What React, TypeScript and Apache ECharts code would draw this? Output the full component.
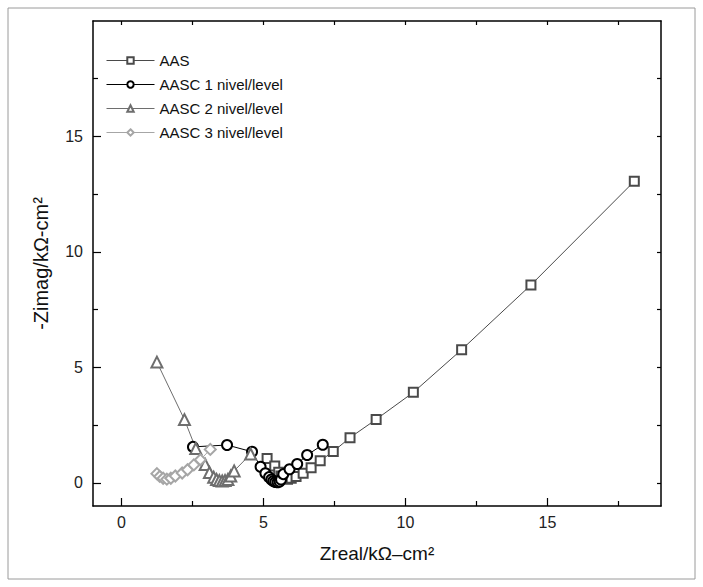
import React, { useEffect, useRef } from "react";
import * as echarts from "echarts";

const seriesNames = ["AAS", "AASC 1 nivel/level", "AASC 2 nivel/level", "AASC 3 nivel/level"];

const aasData = [
  [5.13, 1.06], [5.4, 0.73], [5.54, 0.46], [5.62, 0.3], [5.72, 0.2], [5.85, 0.16], [5.98, 0.2],
  [6.15, 0.28], [6.4, 0.42], [6.68, 0.66], [7.0, 0.96], [7.46, 1.36], [8.05, 1.96], [8.97, 2.75],
  [10.28, 3.92], [11.98, 5.77], [14.42, 8.57], [18.06, 13.06],
];

const aasc1Data = [
  [2.52, 1.56], [3.72, 1.64], [4.6, 1.35], [4.9, 0.7], [5.07, 0.42], [5.2, 0.25], [5.28, 0.15],
  [5.35, 0.08], [5.42, 0.04], [5.5, 0.03], [5.57, 0.06], [5.62, 0.15], [5.7, 0.38], [5.92, 0.59],
  [6.19, 0.82], [6.54, 1.21], [7.09, 1.65],
];

const aasc2Data = [
  [1.25, 5.23], [2.22, 2.74], [2.62, 1.49], [2.95, 0.8], [3.1, 0.45], [3.25, 0.25], [3.35, 0.15],
  [3.45, 0.1], [3.55, 0.08], [3.65, 0.1], [3.75, 0.15], [3.85, 0.3], [3.97, 0.52], [4.55, 1.25],
];

const aasc3Data = [
  [1.25, 0.4], [1.35, 0.28], [1.47, 0.2], [1.6, 0.16], [1.74, 0.2], [1.9, 0.3], [2.14, 0.43],
  [2.33, 0.57], [2.55, 0.78], [2.78, 1.0], [3.13, 1.45],
];

const majorTicks = [0, 5, 10, 15];
const minorTicks = [2.5, 7.5, 12.5, 17.5];
const allTicks = [0, 2.5, 5, 7.5, 10, 12.5, 15, 17.5];

const xTitle = "Zreal/kΩ–cm²";
const yTitle = "-Zimag/kΩ-cm²";

const FONT = 'Arial, "Liberation Sans", sans-serif';

export default function App() {
  const ref = useRef<HTMLDivElement>(null);

  useEffect(() => {
    if (!ref.current) return;
    const chart = echarts.init(ref.current, null, { renderer: "svg" });

    const axisBase = (min: number, max: number) => ({
      type: "value" as const,
      min,
      max,
      splitLine: { show: false },
    });

    const line = (show: boolean) => ({ show, onZero: false, lineStyle: { color: "#000", width: 1.5 } });

    const xAxes = [
      {
        ...axisBase(-1, 19),
        position: "bottom",
        axisLine: line(true),
        axisTick: { show: true, inside: true, length: 8, customValues: majorTicks, lineStyle: { color: "#000", width: 1.2 } },
        axisLabel: { show: true, customValues: majorTicks, fontSize: 16, color: "#222", fontFamily: FONT, margin: 8 },
        name: xTitle,
        nameLocation: "middle",
        nameGap: 38,
        nameTextStyle: { fontSize: 19, color: "#111", fontFamily: FONT },
      },
      {
        ...axisBase(-1, 19),
        position: "bottom",
        axisLine: line(false),
        axisTick: { show: true, inside: true, length: 5, customValues: minorTicks, lineStyle: { color: "#000", width: 1.2 } },
        axisLabel: { show: false },
      },
      {
        ...axisBase(-1, 19),
        position: "top",
        axisLine: line(true),
        axisTick: { show: true, inside: true, length: 4, customValues: allTicks, lineStyle: { color: "#000", width: 1.2 } },
        axisLabel: { show: false },
      },
    ];

    const yAxes = [
      {
        ...axisBase(-1, 20),
        position: "left",
        axisLine: line(true),
        axisTick: { show: true, inside: true, length: 8, customValues: majorTicks, lineStyle: { color: "#000", width: 1.2 } },
        axisLabel: { show: true, customValues: majorTicks, fontSize: 16, color: "#222", fontFamily: FONT, margin: 10 },
        name: yTitle,
        nameLocation: "middle",
        nameGap: 42,
        nameRotate: 90,
        nameTextStyle: { fontSize: 20, color: "#111", fontFamily: FONT },
      },
      {
        ...axisBase(-1, 20),
        position: "left",
        axisLine: line(false),
        axisTick: { show: true, inside: true, length: 5, customValues: minorTicks, lineStyle: { color: "#000", width: 1.2 } },
        axisLabel: { show: false },
      },
      {
        ...axisBase(-1, 20),
        position: "right",
        axisLine: line(true),
        axisTick: { show: true, inside: true, length: 4, customValues: allTicks, lineStyle: { color: "#000", width: 1.2 } },
        axisLabel: { show: false },
      },
    ];

    const mk = (name: string, data: number[][], symbol: string, size: number, color: string) => ({
      name,
      type: "line" as const,
      data,
      xAxisIndex: 0,
      yAxisIndex: 0,
      symbol,
      symbolSize: size,
      showAllSymbol: true,
      lineStyle: { color, width: 1 },
      itemStyle: { color, borderColor: color, borderWidth: 1.2 },
      emphasis: { disabled: true },
    });

    chart.setOption({
      animation: false,
      backgroundColor: "#fff",
      grid: { left: 93, top: 21, right: 42, bottom: 81, containLabel: false },
      legend: {
        orient: "vertical",
        left: 101,
        top: 48,
        itemWidth: 48,
        itemHeight: 8,
        itemGap: 9,
        data: seriesNames,
        lineStyle: { width: 1 },
        textStyle: { fontSize: 15, color: "#111", fontFamily: FONT },
      },
      xAxis: xAxes,
      yAxis: yAxes,
      graphic: [
        {
          type: "rect",
          shape: { x: 8, y: 8, width: 687, height: 571 },
          style: { fill: "none", stroke: "#9a9a9a", lineWidth: 1 },
          silent: true,
        },
      ],
      series: [
        mk(seriesNames[0], aasData, "emptyRect", 9, "#4a4a4a"),
        mk(seriesNames[1], aasc1Data, "emptyCircle", 10, "#000000"),
        mk(seriesNames[2], aasc2Data, "emptyTriangle", 11, "#6e6e6e"),
        mk(seriesNames[3], aasc3Data, "emptyDiamond", 11, "#a6a6a6"),
      ],
    });

    return () => chart.dispose();
  }, []);

  return <div ref={ref} style={{ width: 703, height: 587, position: "absolute", left: 0, top: 0 }} />;
}
